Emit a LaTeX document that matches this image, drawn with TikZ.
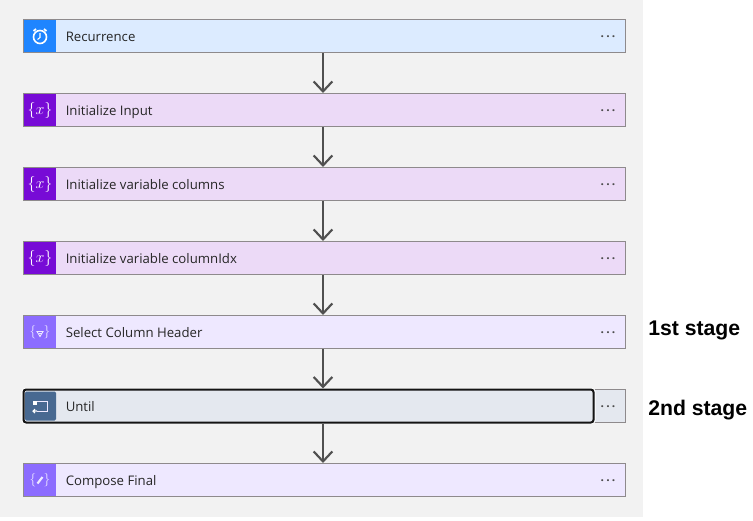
\documentclass[tikz,border=0pt]{standalone}
\usepackage{fontspec}
\setmainfont{Open Sans}
\newfontfamily\stagefont{Liberation Sans}
\usetikzlibrary{arrows.meta}
\definecolor{canvasgray}{HTML}{F2F2F2}
\definecolor{edgegray}{HTML}{8E8A8C}
\definecolor{arrowgray}{HTML}{505050}
\definecolor{recurfill}{HTML}{DCEBFF}
\definecolor{recuricon}{HTML}{1F85FF}
\definecolor{varfill}{HTML}{ECDAF7}
\definecolor{varicon}{HTML}{770BD6}
\definecolor{opfill}{HTML}{EEE8FF}
\definecolor{opicon}{HTML}{8C6CFF}
\definecolor{untilfill}{HTML}{E4E8EF}
\definecolor{untilicon}{HTML}{486991}
\tikzset{
    stepbox/.style={draw=edgegray, line width=0.75pt, minimum width=451.5pt, minimum height=24.75pt, inner sep=0pt},
    iconbox/.style={minimum width=24pt, minimum height=24pt, inner sep=0pt, text=white},
    steptext/.style={inner sep=0pt, anchor=base west, font=\fontsize{9.9pt}{11pt}\selectfont, text=black!85},
    stepdots/.style={inner sep=0pt, font=\fontsize{9pt}{11pt}\selectfont\bfseries, text=black!70},
    stagetext/.style={inner sep=0pt, anchor=base west, font=\stagefont\bfseries\fontsize{15.9pt}{18pt}\selectfont},
    flowarrow/.style={draw=arrowgray, line width=1.6pt, -{Straight Barb[length=7.5pt, width=14pt, line width=1.6pt]}},
}
\begin{document}
\begin{tikzpicture}[x=0.75pt, y=-0.75pt]
    \useasboundingbox (0,0) rectangle (753,521);
    \fill[canvasgray] (0,0) rectangle (643,517);
    % Steps
    \foreach \name/\ypos/\boxfill/\iconfill/\steplabel in {
            recur/36/recurfill/recuricon/Recurrence,
            input/110/varfill/varicon/Initialize Input,
            columns/184/varfill/varicon/Initialize variable columns,
            columnidx/258/varfill/varicon/Initialize variable columnIdx,
            select/332/opfill/opicon/Select Column Header,
            compose/480/opfill/opicon/Compose Final} {
            \node[stepbox, fill=\boxfill] (\name) at (324.5,\ypos) {};
            \node[iconbox, fill=\iconfill] (\name icon) at (40,\ypos) {};
            \node[steptext] (\name text) at (65.5,\ypos+5) {\steplabel};
            \node[stepdots] (\name dots) at (608,\ypos+0.5) {.\hspace{1.6pt}.\hspace{1.6pt}.};
        }
    % Until has its own outline
    \node[stepbox, fill=untilfill] (untilback) at (324.5,406) {};
    \node[draw=white, line width=0.6pt, rounded corners=2.5pt, minimum width=430pt, minimum height=26.5pt, inner sep=0pt] (untilhalo) at (308.5,406) {};
    \node[draw=black!92, fill=untilfill, line width=1.5pt, rounded corners=2pt, minimum width=427.5pt, minimum height=24.75pt, inner sep=0pt] (until) at (308.5,406) {};
    \fill[untilicon, rounded corners=1pt] (25,391.5) -- (56,391.5) -- (56,420.5) -- (25,420.5) -- cycle;
    \node[steptext] (untiltext) at (65.5,411) {Until};
    \node[stepdots] (untildots) at (608,406.5) {.\hspace{1.6pt}.\hspace{1.6pt}.};
    % Icons
    \draw[white, line width=1.2pt] (40,37) circle (6.5);
    \draw[white, line width=0.8pt] (40,33) -- (40,37.5) -- (37.5,39.5);
    \draw[white, line width=1.3pt] (33.5,31) -- (36,29) (46.5,31) -- (44,29);
    \foreach \name in {input, columns, columnidx} {
            \node[iconbox, fill=none, font=\fontsize{12pt}{12pt}\selectfont] at (\name icon) {$\{x\}$};
        }
    \node[iconbox, fill=none, font=\fontsize{10pt}{10pt}\selectfont, text=white!85!opicon] at (selecticon) {$\{\hspace{5.5pt}\}$};
    \draw[white!85!opicon, line width=0.7pt] (37,331.5) -- (43,331.5) -- (40,336.5) -- cycle;
    \draw[white!85!opicon, line width=0.5pt] (38.5,333.5) -- (41.5,333.5);
    \node[iconbox, fill=none, font=\fontsize{10pt}{10pt}\selectfont, text=white!85!opicon] at (composeicon) {$\{\hspace{5.5pt}\}$};
    \draw[white!85!opicon, line width=1.6pt] (37.5,483.5) -- (42.5,477);
    \draw[white!85!opicon, line width=0.7pt] (37,401) -- (47.5,401) -- (47.5,411) -- (37,411);
    \fill[white] (33,400.5) rectangle (37,404.5);
    \draw[white, line width=0.8pt] (33,411) -- (37,411) (35,409) -- (33,411) -- (35,413);
    % Connectors
    \draw[flowarrow] (recur.south -| 323,0) -- (input.north -| 323,0);
    \draw[flowarrow] (input.south -| 323,0) -- (columns.north -| 323,0);
    \draw[flowarrow] (columns.south -| 323,0) -- (columnidx.north -| 323,0);
    \draw[flowarrow] (columnidx.south -| 323,0) -- (select.north -| 323,0);
    \draw[flowarrow] (select.south -| 323,0) -- (until.north -| 323,0);
    \draw[flowarrow] (until.south -| 323,0) -- (compose.north -| 323,0);
    % Stage labels
    \node[stagetext] (firststage) at (648,335) {1st stage};
    \node[stagetext] (secondstage) at (648,415) {2nd stage};
\end{tikzpicture}
\end{document}
